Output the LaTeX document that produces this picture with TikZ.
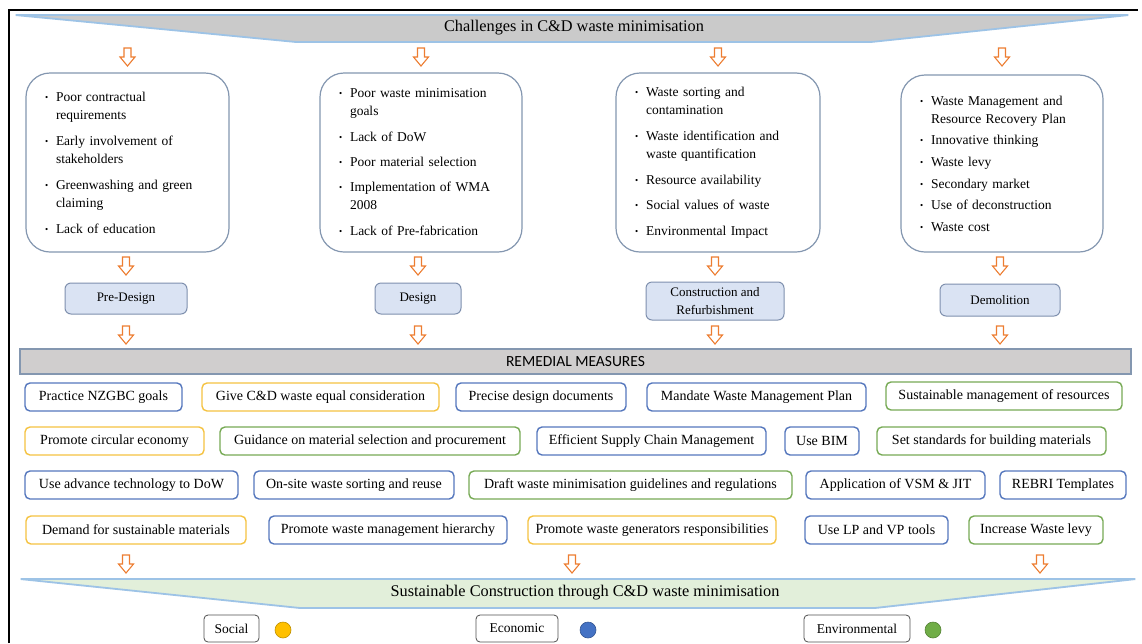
\documentclass[tikz,border=0pt]{standalone}
\usepackage{fontspec}
\setmainfont{Liberation Serif}
\newfontfamily\calibfont{Carlito}
\usetikzlibrary{calc}

\definecolor{arrowor}{HTML}{ED7D31}
\definecolor{bannerline}{HTML}{9DC3E6}
\definecolor{bannergray}{HTML}{CACACA}
\definecolor{bannergreen}{HTML}{E2EFDA}
\definecolor{boxline}{HTML}{8497B0}
\definecolor{stageline}{HTML}{7F90AE}
\definecolor{stagefill}{HTML}{DAE3F3}
\definecolor{barfill}{HTML}{D0CECE}
\definecolor{barline}{HTML}{8497B0}
\definecolor{bluec}{HTML}{5577BD}
\definecolor{yellowc}{HTML}{F5C342}
\definecolor{greenc}{HTML}{77AA55}
\definecolor{socialc}{HTML}{FFC000}
\definecolor{econc}{HTML}{4472C4}
\definecolor{envc}{HTML}{70AD47}
\definecolor{legline}{HTML}{505050}

% bullet and hanging indent for the challenge lists
\newcommand{\bu}{\makebox[11pt][l]{\raisebox{1pt}{\fontsize{9}{9}\selectfont\textbullet}}}
\newcommand{\ind}{\hspace*{11pt}}

\tikzset{
  banner/.style={draw=bannerline, line width=1.8pt, rounded corners=1.5pt},
  bannertext/.style={font=\fontsize{16.3}{18}\selectfont, inner sep=0pt},
  chbox/.style={draw=boxline, line width=1.2pt, rounded corners=24pt, fill=white,
    align=left, inner xsep=19pt, inner ysep=0pt, font=\fontsize{13.5}{18}\selectfont},
  stagebox/.style={draw=stageline, fill=stagefill, line width=1pt, rounded corners=6pt,
    align=center, inner sep=2pt, font=\fontsize{13}{18}\selectfont},
  remedy/.style={draw=#1, fill=white, line width=1.4pt, rounded corners=5pt,
    minimum height=28pt, inner sep=0pt, font=\fontsize{14}{16}\selectfont},
  legendbox/.style={draw=legline, fill=white, line width=0.8pt, rounded corners=4pt,
    minimum height=27pt, inner sep=0pt, font=\fontsize{13.5}{16}\selectfont},
  dot/.style={circle, minimum size=16pt, inner sep=0pt, line width=0.6pt},
  pics/darrow/.style={code={
    \draw[draw=arrowor, fill=white, line width=1.1pt, line join=miter]
      (-3.5,0) -- (-3.5,9) -- (-7.5,9) -- (0,18) -- (7.5,9) -- (3.5,9) -- (3.5,0) -- cycle;}},
}

\begin{document}
\begin{tikzpicture}[x=1pt,y=-1pt]
\useasboundingbox (0,0) rectangle (1142,643);
\fill[white] (0,0) rectangle (1142,643);

% outer frame
\draw[line width=2.5pt] (9,643) -- (9,10) -- (1138,10);

% heading banner
\draw[banner, fill=bannergray] (15,15) -- (1129,15) -- (871,42) -- (296,42) -- cycle;
\node[bannertext] (chal) at (574,28) {Challenges in C\&D waste minimisation};

% challenge lists
\node[chbox, text width=165pt, minimum height=179pt] (c1) at (127.5,162.5)
  {\bu Poor contractual\\\ind requirements\\[8pt]\bu Early involvement of\\\ind stakeholders\\[8pt]\bu Greenwashing and green\\\ind claiming\\[8pt]\bu Lack of education};
\node[chbox, text width=164pt, minimum height=179pt] (c2) at (421,162.5)
  {\bu Poor waste minimisation\\\ind goals\\[8pt]\bu Lack of DoW\\[7pt]\bu Poor material selection\\[7pt]\bu Implementation of WMA\\\ind 2008\\[8pt]\bu Lack of Pre-fabrication};
\node[chbox, text width=166pt, minimum height=179pt] (c3) at (718,162.5)
  {\bu Waste sorting and\\\ind contamination\\[8pt]\bu Waste identification and\\\ind waste quantification\\[8pt]\bu Resource availability\\[7pt]\bu Social values of waste\\[8pt]\bu Environmental Impact};
\node[chbox, text width=164pt, minimum height=177pt] (c4) at (1002,163.5)
  {\bu Waste Management and\\\ind Resource Recovery Plan\\[3pt]\bu Innovative thinking\\[4pt]\bu Waste levy\\[4pt]\bu Secondary market\\[3pt]\bu Use of deconstruction\\[4pt]\bu Waste cost};

\foreach \n in {c1,c2,c3,c4} \pic at (\n.north |- 0,48) {darrow};

% project stages
\node[stagebox, minimum width=122pt, minimum height=31pt] (s1) at (126,298.5) {Pre-Design};
\node[stagebox, minimum width=86pt, minimum height=31pt] (s2) at (418,298.5) {Design};
\node[stagebox, minimum width=138pt, minimum height=38pt] (s3) at (715,301) {Construction and\\Refurbishment};
\node[stagebox, minimum width=120pt, minimum height=32pt] (s4) at (1000,300) {Demolition};

\foreach \n in {s1,s2,s3,s4} {
  \pic at (\n.north |- 0,257) {darrow};
  \pic at (\n.north |- 0,326) {darrow};
}

% remedial measures
\node[draw=barline, fill=barfill, line width=1.3pt, minimum width=1111pt, minimum height=25pt,
  inner sep=0pt, font=\calibfont\fontsize{15.5}{18}\selectfont] (rem) at (575.5,361.5) {REMEDIAL MEASURES};

\node[remedy=bluec,   minimum width=157pt] (r11) at (103.5,397) {Practice NZGBC goals};
\node[remedy=yellowc, minimum width=237pt] (r12) at (320.5,397) {Give C\&D waste equal consideration};
\node[remedy=bluec,   minimum width=170pt] (r13) at (541,397)   {Precise design documents};
\node[remedy=bluec,   minimum width=219pt] (r14) at (756.5,397) {Mandate Waste Management Plan};
\node[remedy=greenc,  minimum width=236pt] (r15) at (1004,396)  {Sustainable management of resources};

\node[remedy=yellowc, minimum width=179pt] (r21) at (114.5,441) {Promote circular economy};
\node[remedy=greenc,  minimum width=300pt] (r22) at (370,441)   {Guidance on material selection and procurement};
\node[remedy=bluec,   minimum width=229pt] (r23) at (651.5,441) {Efficient Supply Chain Management};
\node[remedy=bluec,   minimum width=74pt]  (r24) at (822,441)   {Use BIM};
\node[remedy=greenc,  minimum width=229pt] (r25) at (991.5,441) {Set standards for building materials};

\node[remedy=bluec,   minimum width=213pt] (r31) at (131.5,485) {Use advance technology to DoW};
\node[remedy=bluec,   minimum width=200pt] (r32) at (354,485)   {On-site waste sorting and reuse};
\node[remedy=greenc,  minimum width=323pt] (r33) at (630.5,485) {Draft waste minimisation guidelines and regulations};
\node[remedy=bluec,   minimum width=179pt] (r34) at (895.5,485) {Application of VSM \& JIT};
\node[remedy=bluec,   minimum width=126pt] (r35) at (1063,485)  {REBRI Templates};

\node[remedy=yellowc, minimum width=220pt] (r41) at (136,530)   {Demand for sustainable materials};
\node[remedy=bluec,   minimum width=238pt] (r42) at (388,530)   {Promote waste management hierarchy};
\node[remedy=yellowc, minimum width=248pt] (r43) at (652,530)   {Promote waste generators responsibilities};
\node[remedy=bluec,   minimum width=143pt] (r44) at (876.5,530) {Use LP and VP tools};
\node[remedy=greenc,  minimum width=134pt] (r45) at (1036,530)  {Increase Waste levy};

\foreach \x in {126,572,1040} \pic at (\x,555) {darrow};

% outcome banner
\draw[banner, fill=bannergreen] (20,579) -- (1136,579) -- (875,608) -- (300,608) -- cycle;
\node[bannertext] (sust) at (585,593) {Sustainable Construction through C\&D waste minimisation};

% pillars of sustainability
\node[legendbox, minimum width=55pt]  (soc) at (231.5,628.5) {Social};
\node[dot, draw=socialc!75!black, fill=socialc] (socd) at (283,630) {};
\node[legendbox, minimum width=82pt]  (eco) at (517,628.5) {Economic};
\node[dot, draw=econc!75!black, fill=econc] (ecod) at (588,630) {};
\node[legendbox, minimum width=106pt] (env) at (857,628.5) {Environmental};
\node[dot, draw=envc!75!black, fill=envc] (envd) at (933,630) {};
\end{tikzpicture}
\end{document}
